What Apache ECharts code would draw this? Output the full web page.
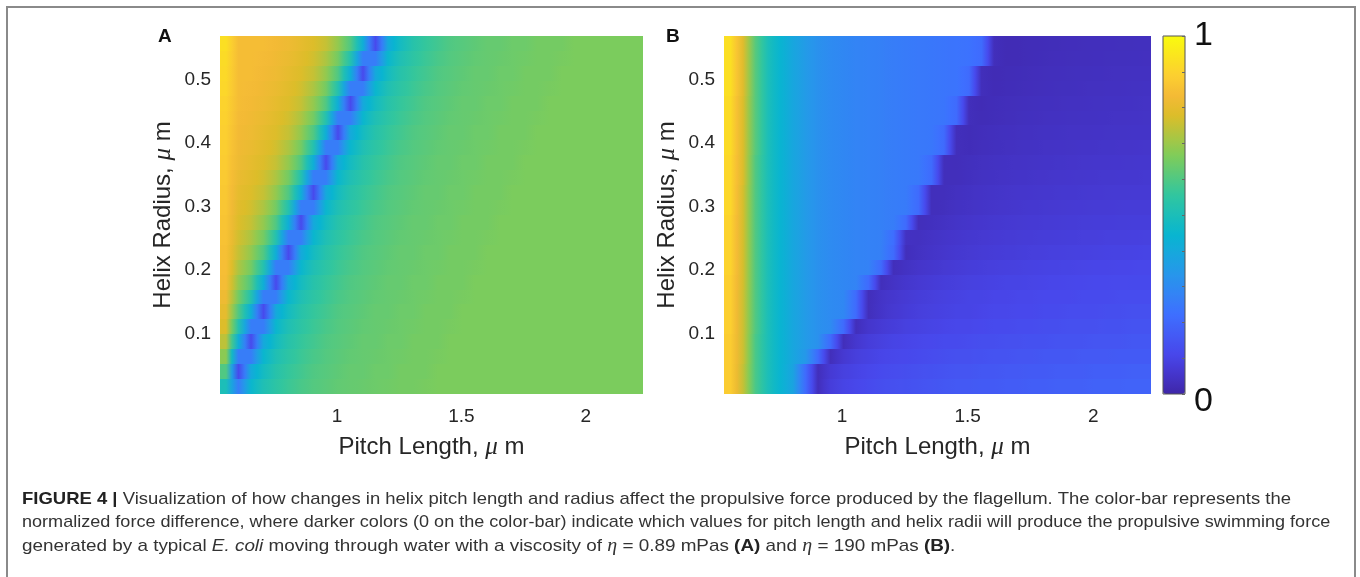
<!DOCTYPE html>
<html><head><meta charset="utf-8">
<script src="https://cdn.jsdelivr.net/npm/echarts@6/dist/echarts.min.js"></script>
<style>
html,body{margin:0;padding:0;background:#fff;overflow:hidden;}
#frame{position:absolute;left:6px;top:6px;width:1350px;height:571px;border:2px solid #8a8a8a;border-bottom:none;box-sizing:border-box;}
#chart{position:absolute;left:0;top:0;width:1360px;height:577px;}
</style></head><body>
<div id="frame"></div><div id="chart"></div>
<script>
// ---- sampling positions (cell centres, micrometres) ----
const pitch = [0.555,0.605,0.655,0.705,0.755,0.805,0.855,0.905,0.955,1.005,1.055,1.105,1.155,1.205,1.255,1.305,1.355,1.405,1.455,1.505,1.555,1.605,1.655,1.705,1.755,1.805,1.855,1.905,1.955,2.005,2.055,2.105,2.155,2.205];
const radius = [0.0163,0.0398,0.0633,0.0868,0.1103,0.1338,0.1573,0.1808,0.2043,0.2278,0.2513,0.2748,0.2983,0.3218,0.3453,0.3688,0.3923,0.4158,0.4393,0.4628,0.4863,0.5098,0.5333,0.5568];
const pitchTicks = [1, 1.5, 2];
const radiusTicks = [0.1, 0.2, 0.3, 0.4, 0.5];
const colorbarLabels = [0, 1];

// ---- panel A: normalized force difference, eta = 0.89 mPas (rows bottom -> top) ----
const forceA = [
 [0.50, 0.26,0.45,0.51,0.545,0.57,0.59,0.605,0.615,0.625,0.63,0.635,0.64,0.645,0.65,0.65,0.655, 0.66,0.66,0.66,0.66,0.66,0.66,0.66,0.66,0.66,0.66,0.66,0.66,0.66,0.66,0.66,0.66,0.66],
 [0.60,0.12, 0.40,0.48,0.53,0.56,0.58,0.60,0.61,0.62,0.63,0.63,0.64,0.64,0.65,0.65,0.65, 0.66,0.66,0.66,0.66,0.66,0.66,0.66,0.66,0.66,0.66,0.66,0.66,0.66,0.66,0.66,0.66,0.66],
 [0.68,0.26, 0.26,0.45,0.51,0.545,0.57,0.59,0.605,0.615,0.625,0.63,0.635,0.64,0.645,0.65,0.65,0.655, 0.66,0.66,0.66,0.66,0.66,0.66,0.66,0.66,0.66,0.66,0.66,0.66,0.66,0.66,0.66,0.66],
 [0.74,0.42,0.12, 0.40,0.48,0.53,0.56,0.58,0.60,0.61,0.62,0.63,0.63,0.64,0.64,0.65,0.65,0.65, 0.66,0.66,0.66,0.66,0.66,0.66,0.66,0.66,0.66,0.66,0.66,0.66,0.66,0.66,0.66,0.66],
 [0.78,0.52,0.26, 0.26,0.45,0.51,0.545,0.57,0.59,0.605,0.615,0.625,0.63,0.635,0.64,0.645,0.65,0.65,0.655, 0.66,0.66,0.66,0.66,0.66,0.66,0.66,0.66,0.66,0.66,0.66,0.66,0.66,0.66,0.66],
 [0.80,0.60,0.42,0.12, 0.40,0.48,0.53,0.56,0.58,0.60,0.61,0.62,0.63,0.63,0.64,0.64,0.65,0.65,0.65, 0.66,0.66,0.66,0.66,0.66,0.66,0.66,0.66,0.66,0.66,0.66,0.66,0.66,0.66,0.66],
 [0.82,0.65,0.52,0.26, 0.26,0.45,0.51,0.545,0.57,0.59,0.605,0.615,0.625,0.63,0.635,0.64,0.645,0.65,0.65,0.655, 0.66,0.66,0.66,0.66,0.66,0.66,0.66,0.66,0.66,0.66,0.66,0.66,0.66,0.66],
 [0.84,0.69,0.60,0.42,0.12, 0.40,0.48,0.53,0.56,0.58,0.60,0.61,0.62,0.63,0.63,0.64,0.64,0.65,0.65,0.65, 0.66,0.66,0.66,0.66,0.66,0.66,0.66,0.66,0.66,0.66,0.66,0.66,0.66,0.66],
 [0.845,0.72,0.65,0.52,0.26, 0.26,0.45,0.51,0.545,0.57,0.59,0.605,0.615,0.625,0.63,0.635,0.64,0.645,0.65,0.65,0.655, 0.66,0.66,0.66,0.66,0.66,0.66,0.66,0.66,0.66,0.66,0.66,0.66,0.66],
 [0.85,0.75,0.69,0.60,0.42,0.12, 0.40,0.48,0.53,0.56,0.58,0.60,0.61,0.62,0.63,0.63,0.64,0.64,0.65,0.65,0.65, 0.66,0.66,0.66,0.66,0.66,0.66,0.66,0.66,0.66,0.66,0.66,0.66,0.66],
 [0.855,0.765,0.72,0.65,0.52,0.26, 0.26,0.45,0.51,0.545,0.57,0.59,0.605,0.615,0.625,0.63,0.635,0.64,0.645,0.65,0.65,0.655, 0.66,0.66,0.66,0.66,0.66,0.66,0.66,0.66,0.66,0.66,0.66,0.66],
 [0.86,0.78,0.75,0.69,0.60,0.42,0.12, 0.40,0.48,0.53,0.56,0.58,0.60,0.61,0.62,0.63,0.63,0.64,0.64,0.65,0.65,0.65, 0.66,0.66,0.66,0.66,0.66,0.66,0.66,0.66,0.66,0.66,0.66,0.66],
 [0.865,0.79,0.765,0.72,0.65,0.52,0.26, 0.26,0.45,0.51,0.545,0.57,0.59,0.605,0.615,0.625,0.63,0.635,0.64,0.645,0.65,0.65,0.655, 0.66,0.66,0.66,0.66,0.66,0.66,0.66,0.66,0.66,0.66,0.66],
 [0.87,0.80,0.78,0.75,0.69,0.60,0.42,0.12, 0.40,0.48,0.53,0.56,0.58,0.60,0.61,0.62,0.63,0.63,0.64,0.64,0.65,0.65,0.65, 0.66,0.66,0.66,0.66,0.66,0.66,0.66,0.66,0.66,0.66,0.66],
 [0.875,0.81,0.79,0.765,0.72,0.65,0.52,0.26, 0.26,0.45,0.51,0.545,0.57,0.59,0.605,0.615,0.625,0.63,0.635,0.64,0.645,0.65,0.65,0.655, 0.66,0.66,0.66,0.66,0.66,0.66,0.66,0.66,0.66,0.66],
 [0.88,0.82,0.80,0.78,0.75,0.69,0.60,0.42,0.12, 0.40,0.48,0.53,0.56,0.58,0.60,0.61,0.62,0.63,0.63,0.64,0.64,0.65,0.65,0.65, 0.66,0.66,0.66,0.66,0.66,0.66,0.66,0.66,0.66,0.66],
 [0.885,0.825,0.81,0.79,0.765,0.72,0.65,0.52,0.26, 0.26,0.45,0.51,0.545,0.57,0.59,0.605,0.615,0.625,0.63,0.635,0.64,0.645,0.65,0.65,0.655, 0.66,0.66,0.66,0.66,0.66,0.66,0.66,0.66,0.66],
 [0.89,0.83,0.82,0.80,0.78,0.75,0.69,0.60,0.42,0.12, 0.40,0.48,0.53,0.56,0.58,0.60,0.61,0.62,0.63,0.63,0.64,0.64,0.65,0.65,0.65, 0.66,0.66,0.66,0.66,0.66,0.66,0.66,0.66,0.66],
 [0.895,0.835,0.825,0.81,0.79,0.765,0.72,0.65,0.52,0.26, 0.26,0.45,0.51,0.545,0.57,0.59,0.605,0.615,0.625,0.63,0.635,0.64,0.645,0.65,0.65,0.655, 0.66,0.66,0.66,0.66,0.66,0.66,0.66,0.66],
 [0.90,0.84,0.83,0.82,0.80,0.78,0.75,0.69,0.60,0.42,0.12, 0.40,0.48,0.53,0.56,0.58,0.60,0.61,0.62,0.63,0.63,0.64,0.64,0.65,0.65,0.65, 0.66,0.66,0.66,0.66,0.66,0.66,0.66,0.66],
 [0.91,0.84,0.835,0.825,0.81,0.79,0.765,0.72,0.65,0.52,0.26, 0.26,0.45,0.51,0.545,0.57,0.59,0.605,0.615,0.625,0.63,0.635,0.64,0.645,0.65,0.65,0.655, 0.66,0.66,0.66,0.66,0.66,0.66,0.66],
 [0.915,0.84,0.84,0.83,0.82,0.80,0.78,0.75,0.69,0.60,0.42,0.12, 0.40,0.48,0.53,0.56,0.58,0.60,0.61,0.62,0.63,0.63,0.64,0.64,0.65,0.65,0.65, 0.66,0.66,0.66,0.66,0.66,0.66,0.66],
 [0.92,0.84,0.84,0.835,0.825,0.81,0.79,0.765,0.72,0.65,0.52,0.26, 0.26,0.45,0.51,0.545,0.57,0.59,0.605,0.615,0.625,0.63,0.635,0.64,0.645,0.65,0.65,0.655, 0.66,0.66,0.66,0.66,0.66,0.66],
 [0.93,0.84,0.84,0.84,0.83,0.82,0.80,0.78,0.75,0.69,0.60,0.42,0.12, 0.40,0.48,0.53,0.56,0.58,0.60,0.61,0.62,0.63,0.63,0.64,0.64,0.65,0.65,0.65, 0.66,0.66,0.66,0.66,0.66,0.66]
];

// ---- panel B: normalized force difference, eta = 190 mPas (rows bottom -> top) ----
const forceB = [
 [0.88,0.75,0.59,0.50,0.44,0.38,0.21, 0.03, 0.08,0.10,0.11,0.12,0.13,0.135,0.14,0.145,0.15,0.155,0.16,0.16,0.165,0.165,0.17,0.17,0.175,0.175,0.18,0.18,0.18,0.185,0.185,0.185,0.19,0.19],
 [0.88,0.75,0.59,0.50,0.44,0.38,0.21, 0.03, 0.07,0.09,0.10,0.11,0.12,0.125,0.13,0.135,0.14,0.145,0.15,0.15,0.155,0.155,0.16,0.16,0.165,0.165,0.17,0.17,0.17,0.175,0.175,0.175,0.18,0.18],
 [0.88,0.76,0.59,0.50,0.44,0.39,0.34,0.21, 0.03, 0.065,0.085,0.095,0.105,0.11,0.115,0.12,0.125,0.13,0.135,0.135,0.14,0.145,0.145,0.15,0.15,0.155,0.155,0.155,0.16,0.16,0.16,0.165,0.165,0.165],
 [0.88,0.76,0.59,0.50,0.44,0.39,0.35,0.32,0.21, 0.03, 0.06,0.08,0.09,0.10,0.105,0.11,0.115,0.12,0.12,0.125,0.13,0.13,0.135,0.135,0.14,0.14,0.145,0.145,0.145,0.15,0.15,0.15,0.155,0.155],
 [0.89,0.76,0.60,0.50,0.44,0.39,0.35,0.32,0.30,0.21, 0.03, 0.055,0.07,0.08,0.09,0.095,0.10,0.105,0.11,0.11,0.115,0.12,0.12,0.125,0.125,0.13,0.13,0.135,0.135,0.135,0.14,0.14,0.145,0.145],
 [0.89,0.76,0.60,0.50,0.44,0.39,0.35,0.32,0.30,0.29,0.21, 0.03, 0.05,0.065,0.075,0.085,0.09,0.095,0.10,0.10,0.105,0.11,0.11,0.115,0.115,0.12,0.12,0.125,0.125,0.125,0.13,0.13,0.135,0.135],
 [0.89,0.76,0.60,0.50,0.44,0.39,0.35,0.32,0.30,0.29,0.21, 0.03, 0.048,0.06,0.07,0.078,0.085,0.09,0.095,0.10,0.10,0.105,0.105,0.11,0.11,0.115,0.115,0.115,0.12,0.12,0.12,0.125,0.125,0.125],
 [0.89,0.77,0.60,0.50,0.44,0.39,0.35,0.32,0.30,0.29,0.28,0.21, 0.03, 0.045,0.057,0.066,0.073,0.08,0.085,0.09,0.093,0.096,0.10,0.10,0.103,0.106,0.108,0.11,0.112,0.114,0.115,0.116,0.117,0.118],
 [0.90,0.77,0.60,0.50,0.44,0.39,0.35,0.32,0.30,0.29,0.28,0.275,0.21, 0.03, 0.042,0.052,0.06,0.067,0.073,0.078,0.082,0.086,0.089,0.092,0.095,0.097,0.099,0.101,0.103,0.105,0.106,0.107,0.109,0.11],
 [0.90,0.77,0.60,0.50,0.44,0.39,0.35,0.32,0.30,0.29,0.28,0.275,0.27,0.21, 0.03, 0.04,0.049,0.056,0.062,0.067,0.071,0.075,0.078,0.081,0.084,0.086,0.088,0.09,0.092,0.094,0.096,0.097,0.099,0.10],
 [0.90,0.77,0.60,0.50,0.44,0.39,0.35,0.32,0.30,0.29,0.28,0.275,0.27,0.22, 0.04, 0.037,0.045,0.051,0.056,0.061,0.065,0.068,0.071,0.074,0.076,0.078,0.08,0.082,0.084,0.085,0.087,0.088,0.089,0.09],
 [0.90,0.77,0.60,0.50,0.44,0.39,0.35,0.32,0.30,0.29,0.28,0.275,0.27,0.26,0.21, 0.03, 0.035,0.042,0.048,0.053,0.057,0.061,0.064,0.067,0.069,0.071,0.073,0.075,0.077,0.078,0.079,0.081,0.082,0.083],
 [0.91,0.77,0.60,0.50,0.44,0.39,0.35,0.32,0.30,0.29,0.28,0.275,0.27,0.26,0.255,0.21, 0.03, 0.033,0.04,0.045,0.049,0.053,0.056,0.059,0.062,0.064,0.066,0.068,0.07,0.071,0.072,0.074,0.075,0.076],
 [0.91,0.77,0.60,0.50,0.44,0.39,0.35,0.32,0.30,0.29,0.28,0.275,0.27,0.26,0.255,0.21, 0.03, 0.031,0.037,0.042,0.046,0.05,0.053,0.055,0.057,0.059,0.061,0.063,0.064,0.066,0.067,0.068,0.069,0.07],
 [0.91,0.78,0.60,0.50,0.44,0.39,0.35,0.32,0.30,0.29,0.28,0.275,0.27,0.26,0.255,0.25,0.21, 0.03, 0.03,0.035,0.04,0.043,0.046,0.049,0.051,0.053,0.055,0.057,0.058,0.06,0.061,0.062,0.063,0.064],
 [0.91,0.78,0.60,0.50,0.44,0.39,0.35,0.32,0.30,0.29,0.28,0.275,0.27,0.26,0.255,0.25,0.21, 0.03, 0.028,0.033,0.037,0.04,0.043,0.045,0.047,0.049,0.051,0.052,0.054,0.055,0.056,0.057,0.058,0.059],
 [0.92,0.78,0.61,0.50,0.44,0.39,0.35,0.32,0.30,0.29,0.28,0.275,0.27,0.26,0.255,0.25,0.245,0.21, 0.03, 0.026,0.031,0.034,0.037,0.04,0.042,0.044,0.046,0.047,0.049,0.05,0.051,0.052,0.053,0.054],
 [0.92,0.78,0.61,0.50,0.44,0.39,0.35,0.32,0.30,0.29,0.28,0.275,0.27,0.26,0.255,0.25,0.245,0.21, 0.03, 0.025,0.029,0.032,0.035,0.037,0.039,0.041,0.043,0.044,0.045,0.046,0.047,0.048,0.049,0.05],
 [0.92,0.78,0.61,0.50,0.44,0.39,0.35,0.32,0.30,0.29,0.28,0.275,0.27,0.26,0.255,0.25,0.245,0.24,0.21, 0.03, 0.023,0.027,0.03,0.033,0.035,0.037,0.039,0.04,0.041,0.042,0.043,0.045,0.046,0.047],
 [0.92,0.78,0.61,0.50,0.44,0.39,0.35,0.32,0.30,0.29,0.28,0.275,0.27,0.26,0.255,0.25,0.245,0.24,0.21, 0.03, 0.022,0.026,0.029,0.031,0.033,0.035,0.036,0.038,0.039,0.04,0.041,0.042,0.043,0.044],
 [0.93,0.79,0.61,0.50,0.44,0.39,0.35,0.32,0.30,0.29,0.28,0.275,0.27,0.26,0.255,0.25,0.245,0.24,0.235,0.21, 0.03, 0.021,0.024,0.027,0.029,0.031,0.033,0.034,0.036,0.037,0.038,0.039,0.04,0.041],
 [0.93,0.79,0.61,0.50,0.44,0.39,0.35,0.32,0.30,0.29,0.28,0.275,0.27,0.26,0.255,0.25,0.245,0.24,0.235,0.21, 0.03, 0.02,0.023,0.026,0.028,0.03,0.031,0.033,0.034,0.035,0.036,0.037,0.038,0.038],
 [0.93,0.79,0.61,0.50,0.44,0.39,0.35,0.32,0.30,0.29,0.28,0.275,0.27,0.26,0.255,0.25,0.245,0.24,0.235,0.23,0.21, 0.03, 0.02,0.022,0.025,0.027,0.029,0.03,0.031,0.032,0.033,0.034,0.035,0.036],
 [0.93,0.79,0.61,0.50,0.44,0.39,0.35,0.32,0.30,0.29,0.28,0.275,0.27,0.26,0.255,0.25,0.245,0.24,0.235,0.23,0.21, 0.03, 0.02,0.022,0.024,0.026,0.027,0.029,0.03,0.031,0.032,0.033,0.033,0.034]
];

// parula colour map (evenly spaced stops)
const parula = ['#3E26A8','#4536CC','#4847EB','#435BF5','#3E6FFF','#3383F5','#2796EB','#18A6DE','#08B5D0','#1CBEB8','#31C69F','#58C97C','#80CC59','#AEC541','#DCBD29','#F4BA36','#FCCF30','#FBE51F','#F9FB0E'];

[forceA, forceB].forEach((g, s) => {
  if (g.length !== radius.length) throw new Error('panel ' + s + ' rows ' + g.length);
  g.forEach((row, j) => { if (row.length !== pitch.length) throw new Error('panel ' + s + ' row ' + j + ' has ' + row.length); });
});

const pal = parula.map(c => [parseInt(c.slice(1, 3), 16), parseInt(c.slice(3, 5), 16), parseInt(c.slice(5, 7), 16)]);
function colorOf(v) {
  v = Math.max(0, Math.min(1, v));
  const t = v * (pal.length - 1);
  const i = Math.min(Math.floor(t), pal.length - 2);
  const f = t - i;
  const c = pal[i].map((x, q) => Math.round(x + (pal[i + 1][q] - x) * f));
  return 'rgb(' + c.join(',') + ')';
}

function cells(grid) {
  const out = [];
  grid.forEach((row, j) => row.forEach((v, k) => out.push([pitch[k], radius[j], v])));
  return out;
}
const grids = [forceA, forceB];
const dx = pitch[1] - pitch[0], dy = radius[1] - radius[0];
function renderCell(params, api) {
  const g = grids[params.seriesIndex];
  const n = pitch.length;
  const j = Math.floor(params.dataIndex / n), k = params.dataIndex % n;
  const v = api.value(2);
  const vl = k > 0 ? (g[j][k - 1] + v) / 2 : v;
  const vr = k < n - 1 ? (g[j][k + 1] + v) / 2 : v;
  const x = api.value(0), y = api.value(1);
  const a = api.coord([x - dx / 2, y + dy / 2]);
  const b = api.coord([x + dx / 2, y - dy / 2]);
  const x0 = Math.round(a[0]), x1 = Math.round(b[0]);
  const y0 = Math.round(a[1]), y1 = Math.round(b[1]);
  return { type: 'rect',
    shape: { x: x0, y: y0, width: x1 - x0, height: y1 - y0 },
    style: { fill: new echarts.graphic.LinearGradient(0, 0, 1, 0, [
      { offset: 0, color: colorOf(vl) }, { offset: 0.5, color: colorOf(v) }, { offset: 1, color: colorOf(vr) }]) } };
}

const FONT = 'Liberation Sans, Arial, sans-serif';
const TXT = '#262626';
const nameStyle = { fontSize: 24, color: TXT, fontFamily: FONT,
  rich: { mu: { fontSize: 25, fontStyle: 'italic', fontFamily: 'Liberation Serif, serif', color: TXT } } };

function xAx(gi) {
  return { type: 'value', gridIndex: gi, min: 0.53, max: 2.23,
    axisLine: { show: false }, axisTick: { show: false }, splitLine: { show: false },
    axisLabel: { customValues: pitchTicks, fontSize: 19, color: TXT, fontFamily: FONT, margin: 13 },
    name: 'Pitch Length, {mu|μ} m', nameLocation: 'middle', nameGap: 41, nameTextStyle: nameStyle };
}
function yAx(gi) {
  return { type: 'value', gridIndex: gi, min: 0.0045, max: 0.5685,
    axisLine: { show: false }, axisTick: { show: false }, splitLine: { show: false },
    axisLabel: { customValues: radiusTicks, fontSize: 19, color: TXT, fontFamily: FONT, margin: 9 },
    name: 'Helix Radius, {mu|μ} m', nameLocation: 'middle', nameGap: 44, nameRotate: 90, nameTextStyle: nameStyle };
}

const capStyle = { fill: '#333', font: '17px ' + FONT };
const chart = echarts.init(document.getElementById('chart'), null, { renderer: 'canvas' });
chart.setOption({
  backgroundColor: 'transparent',
  animation: false,
  title: [
    { text: 'A', left: 158, top: 27, padding: 0, textStyle: { fontSize: 19, fontWeight: 'bold', color: '#111', fontFamily: FONT } },
    { text: 'B', left: 666, top: 27, padding: 0, textStyle: { fontSize: 19, fontWeight: 'bold', color: '#111', fontFamily: FONT } }
  ],
  grid: [
    { left: 220, top: 36, width: 423, height: 358, outerBoundsMode: 'none' },
    { left: 724, top: 36, width: 427, height: 358, outerBoundsMode: 'none' },
    { left: 1163, top: 36, width: 22, height: 358, outerBoundsMode: 'none', show: true, z: 20,
      backgroundColor: 'transparent', borderColor: '#555', borderWidth: 1 }
  ],
  xAxis: [ xAx(0), xAx(1), { type: 'value', gridIndex: 2, show: false, min: 0, max: 1 } ],
  yAxis: [ yAx(0), yAx(1),
    { type: 'value', gridIndex: 2, position: 'right', min: 0, max: 1, interval: 0.1, z: 30,
      axisLine: { show: false, onZero: false }, splitLine: { show: false },
      axisTick: { show: true, inside: true, length: 3, lineStyle: { color: '#666' } },
      axisLabel: { customValues: colorbarLabels, margin: 9,
        formatter: v => (v === 0 ? '{lo|0}' : '{hi|1}'),
        rich: { lo: { fontSize: 34, color: '#111', fontFamily: FONT, padding: [15, 0, 0, 0] },
                hi: { fontSize: 34, color: '#111', fontFamily: FONT } } } }
  ],
  visualMap: {
    type: 'continuous', min: 0, max: 1, dimension: 2, seriesIndex: [0, 1],
    calculable: false, hoverLink: false, show: true, z: 1,
    left: 1163, top: 36, itemWidth: 22, itemHeight: 358, padding: 0, text: null,
    inRange: { color: parula }
  },
  series: [
    { type: 'custom', xAxisIndex: 0, yAxisIndex: 0, renderItem: renderCell, data: cells(forceA), clip: true, silent: true },
    { type: 'custom', xAxisIndex: 1, yAxisIndex: 1, renderItem: renderCell, data: cells(forceB), clip: true, silent: true }
  ],
  graphic: [
    { type: 'text', left: 22, top: 491, scaleX: 1.087, silent: true, style: Object.assign({}, capStyle, {
      text: '{b|FIGURE 4 |} Visualization of how changes in helix pitch length and radius affect the propulsive force produced by the flagellum. The color-bar represents the',
      rich: { b: { fontWeight: 'bold', fontSize: 17, fontFamily: FONT, fill: '#222' } } }) },
    { type: 'text', left: 22, top: 514, scaleX: 1.062, silent: true, style: Object.assign({}, capStyle, {
      text: 'normalized force difference, where darker colors (0 on the color-bar) indicate which values for pitch length and helix radii will produce the propulsive swimming force' }) },
    { type: 'text', left: 22, top: 537, scaleX: 1.11, silent: true, style: Object.assign({}, capStyle, {
      text: 'generated by a typical {i|E. coli} moving through water with a viscosity of {m|η} = 0.89 mPas {b|(A)} and {m|η} = 190 mPas {b|(B)}.',
      rich: { b: { fontWeight: 'bold', fontSize: 17, fontFamily: FONT, fill: '#222' },
              i: { fontStyle: 'italic', fontSize: 17, fontFamily: FONT, fill: '#333' },
              m: { fontStyle: 'italic', fontSize: 18, fontFamily: 'Liberation Serif, serif', fill: '#333' } } }) }
  ]
});
</script></body></html>
